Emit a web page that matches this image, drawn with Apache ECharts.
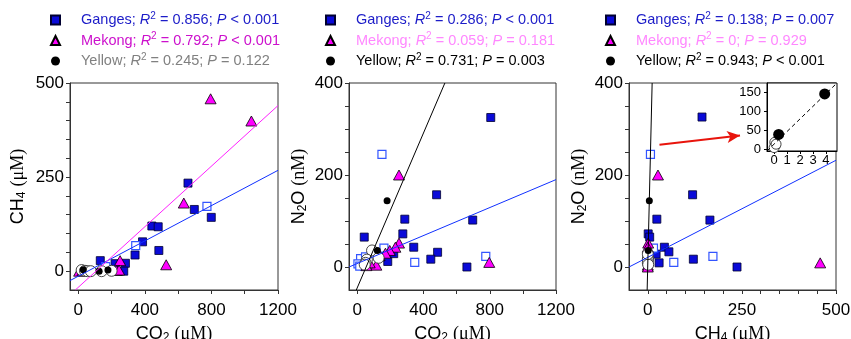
<!DOCTYPE html>
<html>
<head>
<meta charset="utf-8">
<script src="https://cdn.jsdelivr.net/npm/echarts@6/dist/echarts.min.js"></script>
<style>
  html, body { margin: 0; padding: 0; background: #fff; }
  #chart { width: 851px; height: 339px; }
</style>
</head>
<body>
<div id="chart"></div>
<script>
// rivers and regression stats for each panel
const rivers = ['Ganges', 'Mekong', 'Yellow'];
const r2Text = [['0.856', '0.792', '0.245'], ['0.286', '0.059', '0.731'], ['0.138', '0', '0.943']];
const pText = [['< 0.001', '< 0.001', '= 0.122'], ['< 0.001', '= 0.181', '= 0.003'], ['= 0.007', '= 0.929', '< 0.001']];
const legendColors = [
  ['#1c1cc8', '#cc10cc', '#808080'],
  ['#1c1cc8', '#ff88ff', '#000'],
  ['#1c1cc8', '#ff88ff', '#000'],
];

// panel 1: CO2 (uM) vs CH4 (uM)
const gangesFilled1 = [[132, 28], [221, 20], [283, 21], [273, 0], [341, 43], [386, 78], [442, 120], [480, 118], [484, 55], [659, 234], [697, 164], [799, 143]];
const gangesOpen1 = [[345, 68], [773, 172], [165, 12]];
const mekong1 = [[795, 458], [1040, 399], [634, 181], [528, 17], [251, 28], [231, 2], [245, 3], [5, 0], [25, 1]];
const yellowFilled1 = [[30, 4], [125, 0], [178, 3]];
const yellowOpen1 = [[20, 3], [40, 1], [55, 0], [75, 0], [140, 0], [200, 1]];
const fitGanges1 = [[-50, -25], [1200, 268]];
const fitMekong1 = [[-18, -50], [1200, 440]];

// panel 2: CO2 (uM) vs N2O (nM)
const gangesFilled2 = [[806, 325], [479, 157], [697, 102], [287, 104], [275, 72], [341, 43], [485, 32], [444, 17], [662, 0], [42, 65], [220, 29], [184, 12], [140, 22]];
const gangesOpen2 = [[149, 245], [776, 23], [347, 10], [161, 41], [20, 18], [4, 7], [15, 2], [50, 22]];
const mekong2 = [[252, 200], [797, 10], [252, 52], [230, 43], [196, 36], [170, 30], [135, 25], [115, 4], [75, 9], [55, 3]];
const yellowFilled2 = [[180, 144], [121, 36]];
const yellowOpen2 = [[89, 36], [129, 20], [58, 16], [50, 9], [45, 5]];
const fitGanges2 = [[-50, 0], [1200, 190]];
const fitYellow2 = [[-6, -50], [529, 400]];

// panel 3: CH4 (uM) vs N2O (nM)
const gangesFilled3 = [[144, 326], [119, 157], [165, 102], [24, 104], [1, 72], [5, 65], [44, 43], [56, 33], [22, 28], [30, 9], [121, 17], [237, 0]];
const gangesOpen3 = [[7, 245], [173, 23], [69, 10], [15, 41], [2, 18], [0, 7]];
const mekong3 = [[27, 200], [458, 9], [1, 52], [0, 43], [0, 30], [0, 4], [0, 0]];
const yellowFilled3 = [[4, 144], [1, 36]];
const yellowOpen3 = [[1, 20], [0, 16], [0, 9], [1, 5], [0, 28]];
const fitGanges3 = [[-50, 0], [500, 232]];
const fitYellow3 = [[-1.8, -50], [11.5, 400]];
const arrowFrom = [31, 266];
const arrowTo = [245, 286];

// inset: Yellow only, CH4 vs N2O
const insetFilled = [[3.9, 146], [0.35, 39]];
const insetOpen = [[0.05, 18], [0.1, 10], [0.0, 4], [0.15, 13]];
const insetFit = [[-0.55, -5], [4.85, 175]];

// ticks and labels
const co2Ticks = [0, 200, 400, 600, 800, 1000, 1200];
const co2Labels = [0, 400, 800, 1200];
const ch4Ticks = [0, 50, 100, 150, 200, 250, 300, 350, 400, 450, 500];
const ch4Labels = [0, 250, 500];
const n2oTicks = [0, 50, 100, 150, 200, 250, 300, 350, 400];
const n2oLabels = [0, 200, 400];
const insetXTicks = [0, 1, 2, 3, 4];
const insetYTicks = [0, 50, 100, 150];

const chart = echarts.init(document.getElementById('chart'));
const font = 'Liberation Sans';

const nameRich = {
  s: { fontSize: 12, fontFamily: font, verticalAlign: 'bottom', lineHeight: 20, padding: [7, 0, 0, 0] },
  u: { fontSize: 18, fontFamily: 'Liberation Serif' },
};

function axis(gridIndex, min, max, ticks, labels, name, gap, labelMargin) {
  return {
    type: 'value',
    gridIndex,
    min,
    max,
    name,
    nameLocation: 'middle',
    nameGap: gap,
    nameTextStyle: { fontSize: 18, fontFamily: font, color: '#000', lineHeight: 20, rich: nameRich },
    axisLine: { show: true, onZero: false, lineStyle: { color: '#333', width: 1 } },
    axisTick: { show: true, inside: false, length: 4, customValues: ticks, lineStyle: { color: '#333' } },
    axisLabel: { customValues: labels, fontSize: 17, fontFamily: font, color: '#000', margin: labelMargin, formatter: (v) => String(v) },
    splitLine: { show: false },
  };
}

const styles = {
  gFilled: { symbol: 'rect', symbolSize: 8, itemStyle: { color: '#0a0ad8', borderColor: '#000030', borderWidth: 0.8, opacity: 1 } },
  gOpen: { symbol: 'rect', symbolSize: 8, itemStyle: { color: '#fff', borderColor: '#3355ff', borderWidth: 1.2, opacity: 1 } },
  m: { symbol: 'triangle', symbolSize: [11, 10], itemStyle: { color: '#ff00ff', borderColor: '#000', borderWidth: 0.8, opacity: 1 } },
  yFilled: { symbol: 'circle', symbolSize: 7, itemStyle: { color: '#000', opacity: 1 } },
  yOpen: { symbol: 'circle', symbolSize: 11, itemStyle: { color: '#fff', borderColor: '#333', borderWidth: 0.9, opacity: 1 } },
};

const scatter = (name, idx, data, style) => ({
  type: 'scatter', name, xAxisIndex: idx, yAxisIndex: idx, data, ...style, silent: true,
});
const fit = (idx, data, color, extra) => ({
  type: 'line', xAxisIndex: idx, yAxisIndex: idx, data, symbol: 'none', silent: true,
  lineStyle: { color, width: 1, ...(extra || {}) },
});

const panels = [
  { g: gangesFilled1, go: gangesOpen1, m: mekong1, y: yellowFilled1, yo: yellowOpen1 },
  { g: gangesFilled2, go: gangesOpen2, m: mekong2, y: yellowFilled2, yo: yellowOpen2 },
  { g: gangesFilled3, go: gangesOpen3, m: mekong3, y: yellowFilled3, yo: yellowOpen3 },
];

const series = [
  fit(0, fitGanges1, '#1030ff'),
  fit(0, fitMekong1, '#ff20ff'),
  fit(1, fitGanges2, '#1030ff'),
  fit(1, fitYellow2, '#000'),
  fit(2, fitGanges3, '#1030ff'),
  {
    ...fit(2, fitYellow3, '#000'),
    markLine: {
      silent: true,
      symbol: ['none', 'arrow'],
      symbolSize: [9, 13],
      label: { show: false },
      lineStyle: { color: '#e8140c', width: 2, type: 'solid' },
      data: [[{ coord: arrowFrom }, { coord: arrowTo }]],
    },
  },
  fit(3, insetFit, '#000', { type: [4, 3] }),
];
panels.forEach((p, i) => {
  series.push(scatter('Ganges ' + (i + 1), i, p.g, styles.gFilled));
  series.push(scatter('Ganges open ' + (i + 1), i, p.go, styles.gOpen));
  series.push(scatter('Mekong ' + (i + 1), i, p.m, styles.m));
  series.push(scatter('Yellow open ' + (i + 1), i, p.yo, styles.yOpen));
  series.push(scatter('Yellow ' + (i + 1), i, p.y, styles.yFilled));
});
series.push(scatter('Yellow open inset', 3, insetOpen, { ...styles.yOpen, symbolSize: 10 }));
series.push(scatter('Yellow inset', 3, insetFilled, { ...styles.yFilled, symbolSize: 11 }));

const legendLeft = [50, 325, 605];
const icons = ['rect', 'triangle', 'circle'];
const legend = [0, 1, 2].map((i) => ({
  orient: 'vertical',
  left: legendLeft[i],
  top: 11,
  padding: 0,
  itemWidth: 9,
  itemHeight: 9,
  itemGap: 2.5,
  selectedMode: false,
  data: rivers.map((r, j) => ({ name: r + ' ' + (i + 1), icon: icons[j], textStyle: { color: legendColors[i][j] } })),
  formatter: (name) => {
    const [river, n] = name.split(' ');
    const p = +n - 1;
    const j = rivers.indexOf(river);
    return `{g| }${river}; {i|R}{sup|2} = ${r2Text[p][j]}; {i|P} ${pText[p][j]}`;
  },
  textStyle: {
    fontSize: 14.5,
    fontFamily: font,
    lineHeight: 18,
    rich: {
      g: { width: 16 },
      i: { fontStyle: 'italic', fontSize: 14.5, fontFamily: font },
      sup: { fontSize: 10, fontFamily: font, verticalAlign: 'top', lineHeight: 18 },
    },
  },
}));

const gridBase = { show: true, borderColor: '#333', borderWidth: 1, backgroundColor: '#fff', outerBoundsMode: 'none', containLabel: false };

chart.setOption({
  animation: false,
  legend,
  grid: [
    { ...gridBase, left: 70, width: 208, top: 83, height: 207 },
    { ...gridBase, left: 349, width: 207, top: 83, height: 207 },
    { ...gridBase, left: 629, width: 207, top: 83, height: 207 },
    { ...gridBase, left: 767, width: 70, top: 83, height: 68, borderColor: '#000' },
  ],
  xAxis: [
    axis(0, -50, 1200, co2Ticks, co2Labels, 'CO{s|2} {u|(μM)}', 32, 12),
    axis(1, -50, 1200, co2Ticks, co2Labels, 'CO{s|2} {u|(μM)}', 32, 12),
    axis(2, -50, 500, ch4Ticks, ch4Labels, 'CH{s|4} {u|(μM)}', 32, 12),
    {
      ...axis(3, -0.55, 4.85, insetXTicks, insetXTicks, '', 0, 3),
      axisLabel: { customValues: insetXTicks, fontSize: 13, fontFamily: font, color: '#000', margin: 3 },
      axisTick: { show: true, length: 3, customValues: insetXTicks, lineStyle: { color: '#000' } },
      axisLine: { show: true, onZero: false, lineStyle: { color: '#000' } },
    },
  ],
  yAxis: [
    axis(0, -50, 500, ch4Ticks, ch4Labels, 'CH{s|4} {u|(μM)}', 42, 6),
    axis(1, -50, 400, n2oTicks, n2oLabels, 'N{s|2}O {u|(nM)}', 40, 6),
    axis(2, -50, 400, n2oTicks, n2oLabels, 'N{s|2}O {u|(nM)}', 40, 6),
    {
      ...axis(3, -5, 175, insetYTicks, insetYTicks, '', 0, 6),
      axisLabel: { customValues: insetYTicks, fontSize: 13, fontFamily: font, color: '#000', margin: 6 },
      axisTick: { show: true, length: 3, customValues: insetYTicks, lineStyle: { color: '#000' } },
      axisLine: { show: true, onZero: false, lineStyle: { color: '#000' } },
    },
  ],
  series,
});
</script>
</body>
</html>
